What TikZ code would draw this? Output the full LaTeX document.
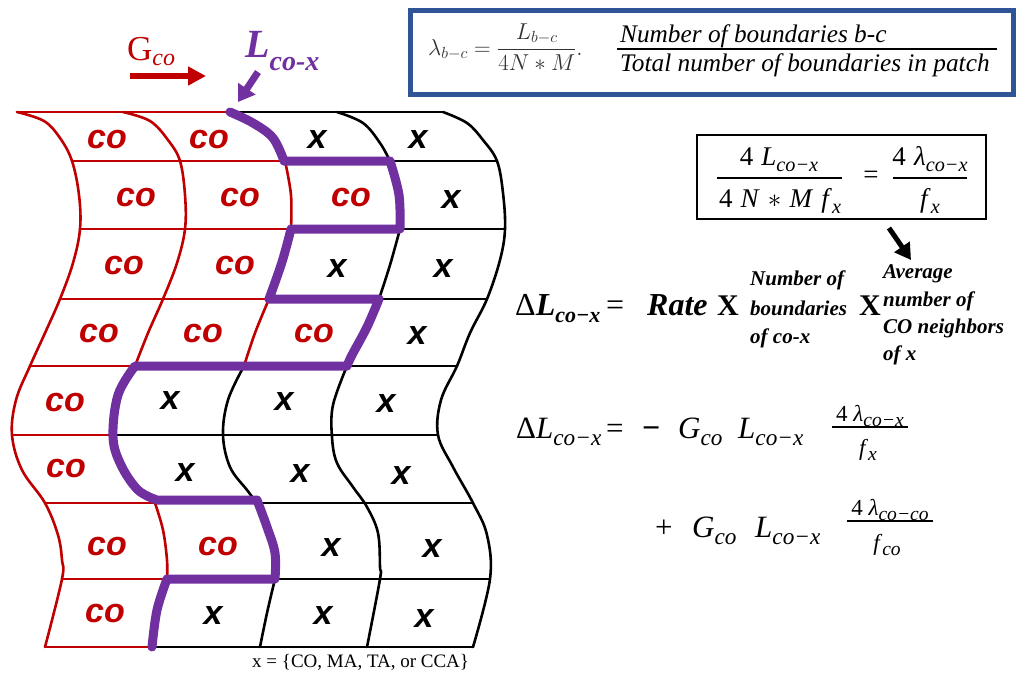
\RequirePackage{fix-cm}
\documentclass[tikz,border=0pt]{standalone}
\usepackage{graphicx}
\usepackage{fontspec}
\usetikzlibrary{arrows.meta}
\newfontfamily\tnr{Liberation Serif}
\newfontfamily\arial{Liberation Sans}
\definecolor{cored}{RGB}{192,0,0}
\definecolor{purp}{RGB}{112,48,160}
\definecolor{boxblue}{RGB}{47,85,151}
\newcommand{\sbs}[2][0.75]{\raisebox{-0.25em}{\scalebox{#1}{#2}}}
\tikzset{
  redln/.style={draw=cored, line width=2.6pt, line join=round, line cap=round},
  blkln/.style={draw=black, line width=2.6pt, line join=round, line cap=round},
  purln/.style={draw=purp, line width=9pt, line join=round, line cap=round},
  colab/.style={anchor=base, text=cored, font=\arial\bfseries\itshape\fontsize{34}{34}\selectfont, inner sep=0pt},
  xlab/.style={anchor=base, text=black, font=\arial\bfseries\itshape\fontsize{34}{34}\selectfont, inner sep=0pt},
  bi/.style={anchor=base west, inner sep=0pt, font=\tnr\bfseries\itshape\fontsize{21}{21}\selectfont},
  eqs/.style={anchor=base west, inner sep=0pt, font=\tnr\fontsize{31}{31}\selectfont},
  fr/.style={anchor=base, inner sep=0pt, font=\tnr\fontsize{23}{23}\selectfont},
  frb/.style={anchor=base, inner sep=0pt, font=\tnr\fontsize{27}{27}\selectfont},
}
\begin{document}
\begin{tikzpicture}[x=1pt,y=-1pt]
\useasboundingbox (0,0) rectangle (1026,673);
\fill[white] (0,0) rectangle (1026,673);

% ---------- grid: vertical curves ----------
\draw[redln] plot[smooth, tension=0.6] coordinates {(17,112) (44,121) (60,138) (72,161) (79,195) (80,229) (73,263) (60,299) (45,333) (30,366) (16,400) (12,435) (22,470) (45,503) (58,535) (62,560) (62,579) (45,647)};
\draw[redln] plot[smooth, tension=0.6] coordinates {(123,112) (150,121) (168,140) (180,161) (185,195) (185,229) (177,263) (163,299) (148,333) (135,366)};
\draw[redln] plot[smooth, tension=0.6] coordinates {(155,503) (163,530) (167,560) (167,579)};
\draw[redln] plot[smooth, tension=0.6] coordinates {(285,161) (291,195) (291,229)};
\draw[redln] plot[smooth, tension=0.6] coordinates {(269,299) (255,333) (244,366)};
\draw[blkln] plot[smooth, tension=0.6] coordinates {(244,366) (228,400) (223,435) (230,467) (247,490) (257,503)};
\draw[blkln] plot[smooth, tension=0.6] coordinates {(275,579) (267,613) (260,647)};
\draw[blkln] plot[smooth, tension=0.6] coordinates {(337,112) (363,123) (380,143) (390,161)};
\draw[blkln] plot[smooth, tension=0.6] coordinates {(400,229) (390,265) (379,299)};
\draw[blkln] plot[smooth, tension=0.6] coordinates {(347,366) (333,405) (332,437) (337,463) (353,487) (367,507) (378,533) (380,567) (380,579) (367,647)};
\draw[blkln] plot[smooth, tension=0.6] coordinates {(443,112) (467,123) (483,140) (497,161) (503,193) (505,229) (500,260) (487,299) (470,333) (457,366) (441,400) (438,435) (453,467) (473,503) (487,535) (490,579) (473,647)};

% ---------- grid: horizontal lines ----------
\draw[redln] (17,112) -- (230,112);  \draw[blkln] (230,112) -- (443,112);
\draw[redln] (72,161) -- (285,161);  \draw[blkln] (390,161) -- (497,161);
\draw[redln] (80,229) -- (291,229);  \draw[blkln] (400,229) -- (505,229);
\draw[redln] (60,299) -- (269,299);  \draw[blkln] (379,299) -- (487,299);
\draw[redln] (30,366) -- (135,366);  \draw[blkln] (347,366) -- (457,366);
\draw[redln] (12,435) -- (115,435);  \draw[blkln] (115,435) -- (438,435);
\draw[redln] (45,503) -- (155,503);  \draw[blkln] (257,503) -- (473,503);
\draw[redln] (62,579) -- (167,579);  \draw[blkln] (275,579) -- (490,579);
\draw[redln] (45,647) -- (152,647);  \draw[blkln] (152,647) -- (473,647);

% ---------- purple boundary ----------
\draw[purln] plot[smooth, tension=0.6] coordinates {(230,112) (253,123) (273,138) (284,161)}
  -- (390,161)
  -- plot[smooth, tension=0.6] coordinates {(390,161) (399,195) (400,229)}
  -- (291,229)
  -- plot[smooth, tension=0.6] coordinates {(291,229) (282,262) (269,299)}
  -- (379,299)
  -- plot[smooth, tension=0.6] coordinates {(379,299) (367,327) (352,355) (347,366)}
  -- (135,366)
  -- plot[smooth, tension=0.6] coordinates {(135,366) (118,395) (113,437) (121,465) (138,490) (157,500)}
  -- (257,500)
  -- plot[smooth, tension=0.6] coordinates {(257,500) (267,527) (275,553) (275,579)}
  -- (167,579)
  -- plot[smooth, tension=0.6] coordinates {(167,579) (157,610) (152,647)};

% ---------- cell labels ----------
\node[colab] (r1a) at (107,148) {co}; \node[colab] (r1b) at (209,148) {co};
\node[xlab] (r1c) at (317,148) {x};   \node[xlab] (r1d) at (418,148) {x};
\node[colab] (r2a) at (136,206) {co}; \node[colab] (r2b) at (240,206) {co};
\node[colab] (r2c) at (351,206) {co}; \node[xlab] (r2d) at (451,208) {x};
\node[colab] (r3a) at (124,274) {co}; \node[colab] (r3b) at (235,274) {co};
\node[xlab] (r3c) at (337,277) {x};   \node[xlab] (r3d) at (443,277) {x};
\node[colab] (r4a) at (99,342) {co};  \node[colab] (r4b) at (203,342) {co};
\node[colab] (r4c) at (314,342) {co}; \node[xlab] (r4d) at (417,344) {x};
\node[colab] (r5a) at (65,411) {co};  \node[xlab] (r5b) at (170,409) {x};
\node[xlab] (r5c) at (284,410) {x};   \node[xlab] (r5d) at (386,412) {x};
\node[colab] (r6a) at (66,477) {co};  \node[xlab] (r6b) at (185,481) {x};
\node[xlab] (r6c) at (300,482) {x};   \node[xlab] (r6d) at (401,484) {x};
\node[colab] (r7a) at (107,555) {co}; \node[colab] (r7b) at (218,555) {co};
\node[xlab] (r7c) at (331,556) {x};   \node[xlab] (r7d) at (432,557) {x};
\node[colab] (r8a) at (105,622) {co}; \node[xlab] (r8b) at (213,624) {x};
\node[xlab] (r8c) at (323,624) {x};   \node[xlab] (r8d) at (424,627) {x};

\node[anchor=base west, inner sep=0pt, font=\tnr\fontsize{19}{19}\selectfont] (xset) at (252,667) {x = \{CO, MA, TA, or CCA\}};

% ---------- G_co and L_co-x ----------
\node[anchor=base west, inner sep=0pt, text=cored, font=\tnr\fontsize{35}{35}\selectfont] (gco) at (127,60) {G\raisebox{-5pt}{\fontsize{24}{24}\selectfont\itshape co}};
\coordinate (ga) at (130,76); \coordinate (gb) at (206,76);
\draw[cored, line width=6pt, -{Triangle[length=18pt,width=18pt]}] (ga) -- (gb);
\node[anchor=base west, inner sep=0pt, text=purp, font=\tnr\bfseries\itshape\fontsize{40}{40}\selectfont] (lco) at (245,57) {L\raisebox{-13pt}{\fontsize{28}{28}\selectfont co-x}};
\coordinate (la) at (258,72); \coordinate (lb) at (238,102);
\draw[purp, line width=7pt, -{Triangle[length=16pt,width=20pt]}] (la) -- (lb);

% ---------- top box ----------
\draw[draw=boxblue, line width=5pt] (410,10.5) rectangle (1013,94.5);
\node[anchor=base west, inner sep=0pt, text=black!80, font=\fontsize{23}{25}\selectfont] (lam) at (428,55) {$\lambda_{b-c} = {\displaystyle\frac{L_{b-c}}{4N*M}}.$};
\node[anchor=base west, inner sep=0pt, font=\tnr\itshape\fontsize{25.3}{25}\selectfont] (num) at (620,42) {Number of boundaries b-c};
\node[anchor=base west, inner sep=0pt, font=\tnr\itshape\fontsize{25.3}{25}\selectfont] (den) at (620,71) {Total number of boundaries in patch};
\draw[line width=1.5pt] (617,49) -- (997,49);

% ---------- right box ----------
\draw[line width=2pt] (697,135) rectangle (986,219);
\node[frb] (bn1) at (779,165) {4\hspace{0.3em}\textit{L}\sbs{\textit{co−x}}};
\node[frb] (bd1) at (780,207) {4\hspace{0.3em}\textit{N}\hspace{0.3em}$\ast$\hspace{0.3em}\textit{M}\hspace{0.3em}\textit{f}\sbs{\textit{x}}};
\draw[line width=2.5pt] (717,178) -- (842,178);
\node[inner sep=0pt, font=\tnr\fontsize{27}{27}\selectfont] (beq) at (871,177) {=};
\node[frb] (bn2) at (930,165) {4\hspace{0.3em}\textit{λ}\sbs{\textit{co−x}}};
\node[frb] (bd2) at (930,207) {\textit{f}\sbs{\textit{x}}};
\draw[line width=2.5pt] (893,178) -- (967,178);
\coordinate (aa) at (889,228); \coordinate (ab) at (911,260);
\draw[line width=5pt, -{Triangle[length=16pt,width=18pt]}] (aa) -- (ab);

% ---------- equation 1 ----------
\node[anchor=base west, inner sep=0pt, font=\tnr\fontsize{32}{32}\selectfont] (e1l) at (515,315) {Δ\textbf{\textit{L}}\raisebox{-7pt}{\fontsize{22}{22}\selectfont\bfseries\itshape co−x}};
\node[anchor=base west, inner sep=0pt, font=\tnr\fontsize{32}{32}\selectfont] (e1eq) at (606,315) {=};
\node[anchor=base west, inner sep=0pt, font=\tnr\bfseries\itshape\fontsize{32}{32}\selectfont] (rate) at (647,315) {Rate};
\node[anchor=base west, inner sep=0pt, font=\tnr\bfseries\fontsize{30}{30}\selectfont] (x1) at (717,315) {X};
\node[bi] (nb1) at (750,285) {Number of};
\node[bi] (nb2) at (750,315) {boundaries};
\node[bi] (nb3) at (750,343) {of co-x};
\node[anchor=base west, inner sep=0pt, font=\tnr\bfseries\fontsize{30}{30}\selectfont] (x2) at (859,315) {X};
\node[bi] (av1) at (883,278) {Average};
\node[bi] (av2) at (883,306) {number of};
\node[bi] (av3) at (883,333) {CO neighbors};
\node[bi] (av4) at (883,360) {of x};

% ---------- equation 2 ----------
\node[eqs] (e2l) at (516,438) {Δ\textit{L}\sbs{\textit{co−x}}};
\node[eqs] (e2eq) at (606,438) {=};
\node[anchor=base west, inner sep=0pt, font=\tnr\bfseries\fontsize{32}{32}\selectfont] (e2m) at (642,438) {−};
\node[eqs] (e2g) at (678,438) {\textit{G}\sbs{\textit{co}}};
\node[eqs] (e2L) at (738,438) {\textit{L}\sbs{\textit{co−x}}};
\node[fr] (e2n) at (870,421) {4\hspace{0.25em}\textit{λ}\sbs[0.85]{\textit{co−x}}};
\node[fr] (e2d) at (868,455) {\textit{f}\sbs[0.85]{\textit{x}}};
\draw[line width=2.5pt] (832,427) -- (908,427);

% ---------- equation 3 ----------
\node[eqs] (e3p) at (655,537) {+};
\node[eqs] (e3g) at (692,537) {\textit{G}\sbs{\textit{co}}};
\node[eqs] (e3L) at (755,537) {\textit{L}\sbs{\textit{co−x}}};
\node[fr] (e3n) at (890,515) {4\hspace{0.25em}\textit{λ}\sbs[0.85]{\textit{co−co}}};
\node[fr] (e3d) at (887,550) {\textit{f}\sbs[0.85]{\textit{co}}};
\draw[line width=2.5pt] (847,521) -- (933,521);
\end{tikzpicture}
\end{document}
